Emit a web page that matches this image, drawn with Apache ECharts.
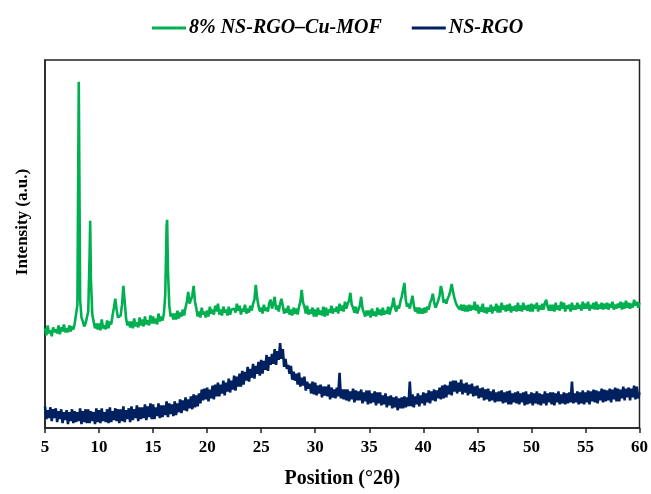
<!DOCTYPE html>
<html>
<head>
<meta charset="utf-8">
<script src="https://cdn.jsdelivr.net/npm/echarts@6/dist/echarts.min.js"></script>
<style>
html,body{margin:0;padding:0;background:#fff;}
#c{width:651px;height:494px;}
</style>
</head>
<body>
<div id="c"></div>
<script>
// Series names
const seriesNames = ['8% NS-RGO\u2013Cu-MOF', 'NS-RGO'];

// Scan grid: 2θ from 5° to 60°, one reading every 0.125° (8 readings per degree)
const scanStart = 5;
const scanStep = 0.125;

// 8% NS-RGO–Cu-MOF intensity (a.u.), 8 values per line = 1 degree (5.000 … 60.000)
const mofIntensity = [
  101,94,104,96,99,93,102,97,       // 5
  100,96,104,95,102,98,105,97,      // 6
  101,97,104,98,103,100,106,108,    // 7
  125,351,130,112,108,103,106,108,  // 8
  118,175,150,115,108,101,106,100,  // 9
  106,99,110,101,104,100,109,101,   // 10
  108,105,114,122,131,120,112,110,  // 11
  114,125,144,128,111,104,108,102,  // 12
  108,101,111,103,107,102,112,104,  // 13
  110,103,113,105,109,104,114,106,  // 14
  113,106,111,105,116,108,113,109,  // 15
  116,135,205,160,124,113,116,110,  // 16
  116,110,119,111,117,113,120,114,  // 17
  122,128,138,126,124,134,144,128,  // 18
  121,113,118,112,122,115,118,112,  // 19
  119,113,123,116,120,115,124,118,  // 20
  126,115,120,114,123,117,120,114,  // 21
  123,115,120,118,121,117,126,119,  // 22
  124,115,121,118,125,116,121,117,  // 23
  124,119,126,130,145,132,124,118,  // 24
  122,116,125,119,122,118,127,130,  // 25
  121,126,133,120,124,118,126,131,  // 26
  124,116,121,117,124,115,120,114,  // 27
  122,116,121,115,123,128,140,127,  // 28
  123,116,124,115,120,116,122,113,  // 29
  120,113,122,115,119,114,123,113,  // 30
  122,114,120,117,124,116,121,118,  // 31
  123,116,126,119,124,118,128,121,  // 32
  126,129,137,125,122,117,123,116,  // 33
  120,124,133,121,117,113,119,114,  // 34
  119,112,121,114,118,113,122,115,  // 35
  120,114,122,115,119,116,123,115,  // 36
  121,124,132,122,118,124,121,128,  // 37
  133,140,147,130,123,126,121,128,  // 38
  134,124,118,122,116,122,116,121,  // 39
  116,122,117,123,120,127,130,136,  // 40
  128,122,125,129,134,144,138,127,  // 41
  130,126,131,134,139,146,138,132,  // 42
  127,124,126,120,125,119,125,118,  // 43
  124,118,125,119,124,120,128,119,  // 44
  125,116,123,118,126,117,122,116,  // 45
  122,118,125,116,123,119,126,117,  // 46
  124,117,127,120,124,118,125,119,  // 47
  126,117,123,119,124,118,127,119,  // 48
  124,118,127,120,124,119,125,118,  // 49
  126,118,125,121,127,118,124,120,  // 50
  126,120,127,130,123,119,125,119,  // 51
  125,118,127,120,124,119,128,121,  // 52
  127,118,124,121,125,118,127,120,  // 53
  124,120,127,121,125,119,128,121,  // 54
  126,121,128,119,125,121,127,120,  // 55
  128,120,125,121,127,120,126,121,  // 56
  127,120,126,122,128,120,125,121,  // 57
  126,122,128,120,127,121,129,122,  // 58
  127,121,126,122,130,124,128,122,  // 59
  127                               // 60
];
// Extra readings at the tops of the sharpest MOF reflections: [2θ, intensity]
const mofPeakTops = [
  [8.06, 240], [8.19, 240], [9.18, 210], [16.3, 211]
];

// NS-RGO intensity (a.u.), 8 values per line = 1 degree (5.000 … 60.000)
const rgoIntensity = [
  22,9,18,10,21,7,19,10,     // 5
  20,6,17,9,19,5,16,8,       // 6
  18,4,16,7,19,5,17,6,       // 7
  16,7,20,4,17,6,19,5,       // 8
  19,5,17,7,16,4,20,6,       // 9
  18,5,20,7,16,6,19,5,       // 10
  21,6,17,8,20,7,19,5,       // 11
  19,7,22,6,18,9,20,6,       // 12
  22,8,19,10,23,7,21,9,      // 13
  21,10,24,8,22,11,25,9,     // 14
  24,9,21,12,25,10,23,11,    // 15
  23,13,27,11,25,14,24,12,   // 16
  27,13,25,16,29,15,28,18,   // 17
  31,17,29,20,32,19,34,21,   // 18
  33,22,35,25,39,28,40,29,   // 19
  41,27,39,30,43,29,44,32,   // 20
  46,32,44,35,48,33,46,37,   // 21
  50,36,48,39,53,38,52,42,   // 22
  55,42,58,44,57,48,62,47,   // 23
  60,51,65,50,63,55,67,53,   // 24
  69,55,68,59,74,58,72,64,   // 25
  75,65,80,64,78,69,86,70,   // 26
  80,62,70,60,64,55,63,49,   // 27
  57,48,55,44,56,42,51,43,   // 28
  52,38,47,40,45,35,47,34,   // 29
  46,33,43,35,44,31,42,33,   // 30
  42,32,44,29,41,31,39,30,   // 31
  41,32,56,30,39,29,39,28,   // 32
  39,27,37,29,40,26,38,28,   // 33
  37,28,39,25,36,27,38,24,   // 34
  38,25,35,26,37,23,36,25,   // 35
  36,23,33,24,35,21,32,23,   // 36
  33,20,31,21,32,18,30,20,   // 37
  31,20,32,21,31,22,47,22,   // 38
  34,21,32,24,35,22,33,25,   // 39
  36,23,35,26,38,25,37,28,   // 40
  39,27,38,30,41,29,43,30,   // 41
  44,31,43,34,47,33,48,37,   // 42
  48,35,46,37,49,34,45,36,   // 43
  46,33,44,35,45,32,42,33,   // 44
  43,30,40,31,41,28,39,29,   // 45
  40,27,37,28,39,26,36,27,   // 46
  37,27,38,25,36,26,37,24,   // 47
  38,24,35,26,36,25,37,24,   // 48
  35,26,36,23,37,24,34,25,   // 49
  36,23,35,25,37,24,35,23,   // 50
  34,25,37,23,35,26,36,24,   // 51
  36,23,35,26,37,24,34,25,   // 52
  36,24,35,25,36,26,47,25,   // 53
  35,26,37,24,36,25,38,24,   // 54
  36,26,38,24,37,27,39,26,   // 55
  38,25,37,28,40,26,39,27,   // 56
  38,28,40,26,39,29,41,27,   // 57
  40,27,39,30,42,28,40,31,   // 58
  41,28,40,31,43,29,42,30,   // 59
  36                         // 60
];

// x-axis tick labels
const xTicks = [5,10,15,20,25,30,35,40,45,50,55,60];

function toPairs(values) {
  return values.map((v, i) => [+(scanStart + i * scanStep).toFixed(3), v]);
}
const mofData = toPairs(mofIntensity).concat(mofPeakTops).sort((a, b) => a[0] - b[0]);
const rgoData = toPairs(rgoIntensity);

const serif = '"Liberation Serif", "Times New Roman", serif';
const chart = echarts.init(document.getElementById('c'), null, {renderer: 'canvas'});
chart.setOption({
  animation: false,
  backgroundColor: '#ffffff',
  color: ['#00B050', '#002060'],
  legend: {
    left: 147,
    top: 13,
    icon: 'rect',
    itemWidth: 34,
    itemHeight: 3,
    itemGap: 30,
    textStyle: {
      fontFamily: serif,
      fontSize: 20,
      fontWeight: 'bold',
      fontStyle: 'italic',
      color: '#000',
      padding: [0, 0, 0, -2]
    },
    data: seriesNames
  },
  grid: {
    left: 45,
    right: 8,
    top: 60,
    bottom: 61,
    show: true,
    borderColor: '#222',
    borderWidth: 1.5,
    containLabel: false
  },
  xAxis: {
    type: 'value',
    min: xTicks[0],
    max: xTicks[xTicks.length - 1],
    interval: 5,
    name: 'Position (\u00b02\u03b8)',
    nameLocation: 'middle',
    nameGap: 41,
    nameTextStyle: {fontFamily: serif, fontSize: 20, fontWeight: 'bold', color: '#000'},
    axisLine: {show: true, onZero: false, lineStyle: {color: '#222', width: 1.5}},
    axisTick: {show: true, inside: false, length: 5, lineStyle: {color: '#222', width: 1.5}},
    axisLabel: {fontFamily: serif, fontSize: 17, fontWeight: 'bold', color: '#000', margin: 11},
    splitLine: {show: false}
  },
  yAxis: {
    type: 'value',
    min: 0,
    max: 373,
    name: 'Intensity (a.u.)',
    nameLocation: 'middle',
    nameGap: 14,
    nameTextStyle: {fontFamily: serif, fontSize: 17, fontWeight: 'bold', color: '#000', padding: [0, 0, 0, 44]},
    axisLine: {show: true, lineStyle: {color: '#222', width: 1.5}},
    axisTick: {show: false},
    axisLabel: {show: false},
    splitLine: {show: false}
  },
  series: [
    {
      name: seriesNames[0],
      type: 'line',
      data: mofData,
      showSymbol: false,
      symbol: 'none',
      lineStyle: {width: 2.6, color: '#00B050'},
      itemStyle: {color: '#00B050'}
    },
    {
      name: seriesNames[1],
      type: 'line',
      data: rgoData,
      showSymbol: false,
      symbol: 'none',
      lineStyle: {width: 2.6, color: '#002060'},
      itemStyle: {color: '#002060'}
    }
  ]
});
</script>
</body>
</html>
